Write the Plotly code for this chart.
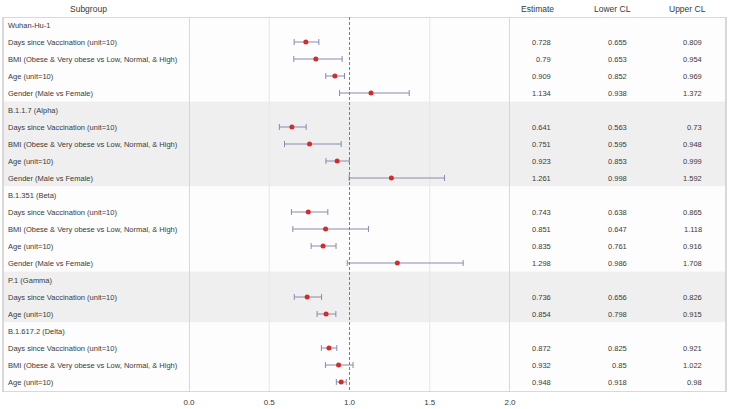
import plotly.graph_objects as go

W, H = 730, 409

groups = ["Wuhan-Hu-1", "B.1.1.7 (Alpha)", "B.1.351 (Beta)", "P.1 (Gamma)", "B.1.617.2 (Delta)"]
DAYS = "Days since Vaccination (unit=10)"
BMI = "BMI (Obese & Very obese vs Low, Normal, & High)"
AGE = "Age (unit=10)"
GEN = "Gender (Male vs Female)"
group_items = [
    [DAYS, BMI, AGE, GEN],
    [DAYS, BMI, AGE, GEN],
    [DAYS, BMI, AGE, GEN],
    [DAYS, AGE],
    [DAYS, BMI, AGE],
]
estimate = [0.728, 0.79, 0.909, 1.134,
            0.641, 0.751, 0.923, 1.261,
            0.743, 0.851, 0.835, 1.298,
            0.736, 0.854,
            0.872, 0.932, 0.948]
lower_cl = [0.655, 0.653, 0.852, 0.938,
            0.563, 0.595, 0.853, 0.998,
            0.638, 0.647, 0.761, 0.986,
            0.656, 0.798,
            0.825, 0.85, 0.918]
upper_cl = [0.809, 0.954, 0.969, 1.372,
            0.73, 0.948, 0.999, 1.592,
            0.865, 1.118, 0.916, 1.708,
            0.826, 0.915,
            0.921, 1.022, 0.98]
x_ticks = [0.0, 0.5, 1.0, 1.5, 2.0]
x_tick_text = ["0.0", "0.5", "1.0", "1.5", "2.0"]
headers = ["Subgroup", "Estimate", "Lower CL", "Upper CL"]

# build row layout
row_labels, data_rows, group_spans = [], [], []
r = 0
for g, items in zip(groups, group_items):
    start = r
    row_labels.append((r, g))
    r += 1
    for it in items:
        row_labels.append((r, it))
        data_rows.append(r)
        r += 1
    group_spans.append((start, r - 1))

# pixel geometry
TOP, BOT = 17, 392
ROW0, ROWH = 25, 17
def px2row(p):
    return (p - ROW0) / ROWH
X0PX, X1PX = 189, 510
LPX, RPX = 3, 726

FONT = "Liberation Sans, Arial, Helvetica, sans-serif"
TXT = "#3a3a3a"
LINE = "#cccccc"

fig = go.Figure()

fig.add_trace(go.Scatter(
    x=estimate, y=data_rows, mode="markers",
    marker=dict(color="#d42a2a", size=5),
    error_x=dict(type="data", symmetric=False,
                 array=[u - e for u, e in zip(upper_cl, estimate)],
                 arrayminus=[e - l for e, l in zip(estimate, lower_cl)],
                 color="#8a8ab0", thickness=1, width=3),
    showlegend=False, hoverinfo="skip", cliponaxis=False,
))

shapes = []
for gi, (s, e) in enumerate(group_spans):
    shapes.append(dict(type="rect", xref="paper", yref="y",
                       x0=LPX / W, x1=RPX / W, y0=s - 0.5, y1=min(e + 0.5, px2row(BOT)),
                       fillcolor="#efefef" if gi % 2 == 1 else "#fdfdfd",
                       line=dict(width=0), layer="below"))
for xv in [0.5, 1.5]:
    shapes.append(dict(type="line", xref="x", yref="y", x0=xv, x1=xv,
                       y0=px2row(TOP), y1=px2row(BOT),
                       line=dict(color="#e6e6e6", width=1), layer="below"))
for xv in [0.0, 2.0]:
    shapes.append(dict(type="line", xref="x", yref="y", x0=xv, x1=xv,
                       y0=px2row(TOP), y1=px2row(BOT),
                       line=dict(color=LINE, width=1.5)))
for xp in [LPX, RPX]:
    shapes.append(dict(type="line", xref="paper", yref="y", x0=xp / W, x1=xp / W,
                       y0=px2row(TOP), y1=px2row(BOT),
                       line=dict(color=LINE, width=1.5)))
for yp in [TOP, BOT]:
    shapes.append(dict(type="line", xref="paper", yref="y", x0=LPX / W, x1=RPX / W,
                       y0=px2row(yp), y1=px2row(yp),
                       line=dict(color=LINE, width=1.5)))
shapes.append(dict(type="line", xref="x", yref="y", x0=1, x1=1,
                   y0=px2row(TOP), y1=px2row(BOT),
                   line=dict(color="#7a7a8a", width=1, dash="3px,2px")))

ann = []
for rr, lab in row_labels:
    ann.append(dict(x=6 / W, y=rr, xref="paper", yref="y", text=lab,
                    showarrow=False, xanchor="left", yanchor="middle",
                    font=dict(size=7.5, color=TXT, family=FONT)))
col_right = [553, 629, 704]
for rr, e, l, u in zip(data_rows, estimate, lower_cl, upper_cl):
    for xp, v in zip(col_right, [e, l, u]):
        ann.append(dict(x=xp / W, y=rr, xref="paper", yref="y", text=str(v),
                        showarrow=False, xanchor="right", yanchor="middle",
                        font=dict(size=7.5, color=TXT, family=FONT)))
for xp, h in zip([88, 537, 612, 687], headers):
    ann.append(dict(x=xp / W, y=1 - 9 / H, xref="paper", yref="paper", text=h,
                    showarrow=False, xanchor="center", yanchor="middle",
                    font=dict(size=8.5, color=TXT, family=FONT)))

fig.update_layout(
    width=W, height=H, margin=dict(l=0, r=0, t=0, b=0),
    paper_bgcolor="white", plot_bgcolor="rgba(0,0,0,0)",
    shapes=shapes, annotations=ann,
    xaxis=dict(domain=[X0PX / W, X1PX / W], range=[0, 2], tickvals=x_ticks,
               ticktext=x_tick_text, showgrid=False, zeroline=False,
               showline=False, ticks="", automargin=False, ticklabelstandoff=4,
               tickfont=dict(size=8, color=TXT, family=FONT)),
    yaxis=dict(domain=[1 - BOT / H, 1 - TOP / H],
               range=[px2row(BOT), px2row(TOP)],
               showgrid=False, zeroline=False, showticklabels=False,
               showline=False, automargin=False),
)
fig.write_html("out.html", config={"displayModeBar": False},
               post_script="document.body.style.margin='0';document.body.style.overflow='hidden';")
